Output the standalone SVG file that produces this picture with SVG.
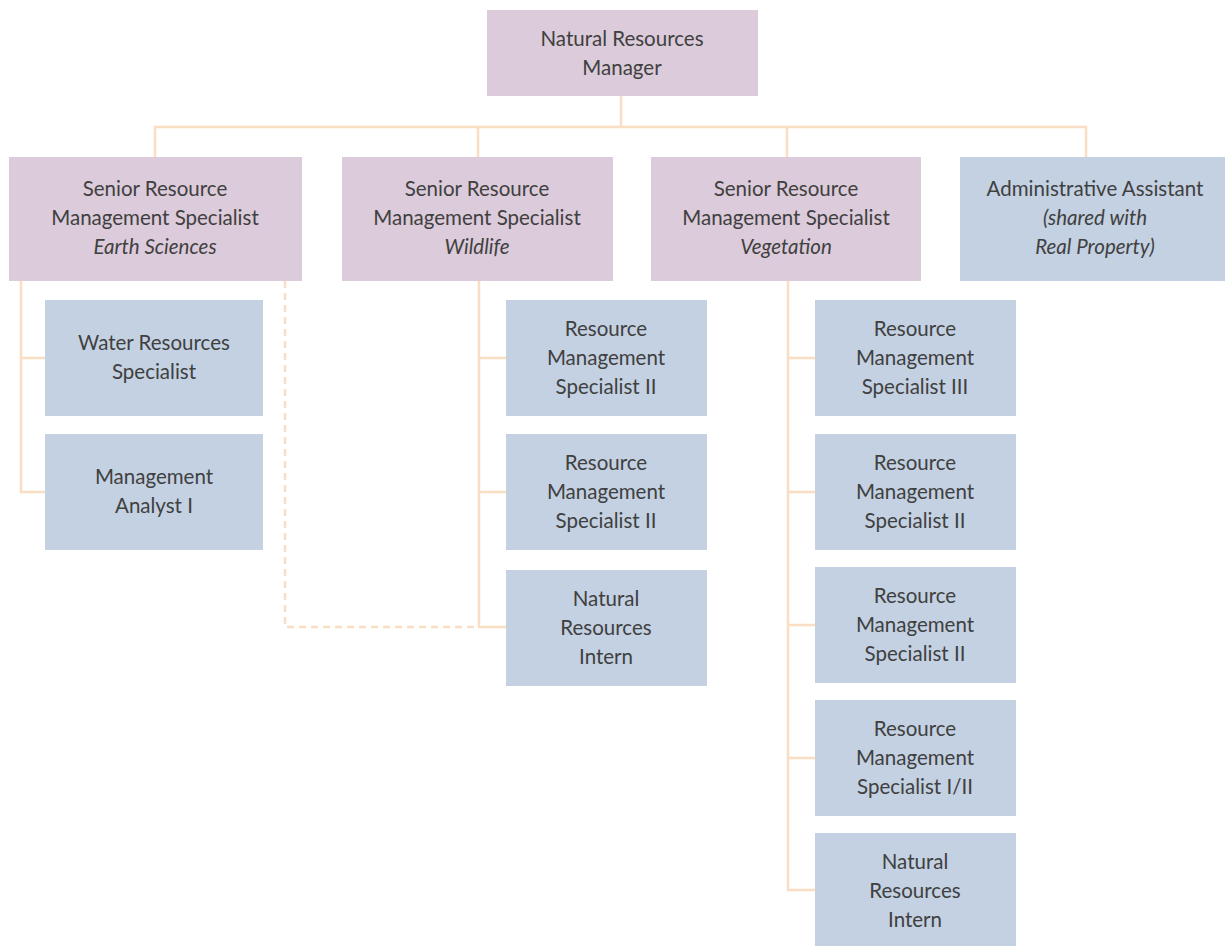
<svg xmlns="http://www.w3.org/2000/svg" width="1225" height="946" viewBox="0 0 1225 946">
<style>
.p{fill:#dccbda}
.b{fill:#c3d1e2}
text{font-family:Lato,"Noto Sans","Liberation Sans",sans-serif;font-size:20.5px;fill:#404040;text-anchor:middle}
.i{font-style:italic}
.c{fill:none;stroke:#f9dec3;stroke-width:2.5}
.d{stroke-dasharray:7 5}
</style>
<rect width="1225" height="946" fill="#ffffff"/>
<g id="connectors">
<path class="c" d="M621 96V127M155 157V127H1086V157M478 127V157M787 127V157"/>
<path class="c" d="M21 281V492H45M21 358H45"/>
<path class="c" d="M479 281V627H506M479 358H506M479 492H506"/>
<path class="c d" d="M285 281V627H479"/>
<path class="c" d="M788 281V890H815M788 358H815M788 492H815M788 625H815M788 758H815"/>
</g>
<g id="n-manager"><rect class="p" x="487" y="10" width="271" height="86"/><text x="622" y="46">Natural Resources</text><text x="622" y="75">Manager</text></g>
<g id="n-earth"><rect class="p" x="9" y="157" width="293" height="124"/><text x="155" y="196">Senior Resource</text><text x="155" y="225">Management Specialist</text><text class="i" x="155" y="254">Earth Sciences</text></g>
<g id="n-wildlife"><rect class="p" x="342" y="157" width="271" height="124"/><text x="477" y="196">Senior Resource</text><text x="477" y="225">Management Specialist</text><text class="i" x="477" y="254">Wildlife</text></g>
<g id="n-vegetation"><rect class="p" x="651" y="157" width="270" height="124"/><text x="786" y="196">Senior Resource</text><text x="786" y="225">Management Specialist</text><text class="i" x="786" y="254">Vegetation</text></g>
<g id="n-admin"><rect class="b" x="960" y="157" width="271" height="124"/><text x="1095" y="196">Administrative Assistant</text><text class="i" x="1095" y="225">(shared with</text><text class="i" x="1095" y="254">Real Property)</text></g>
<g id="n-water"><rect class="b" x="45" y="300" width="218" height="116"/><text x="154" y="350">Water Resources</text><text x="154" y="379">Specialist</text></g>
<g id="n-analyst"><rect class="b" x="45" y="434" width="218" height="116"/><text x="154" y="484">Management</text><text x="154" y="513">Analyst I</text></g>
<g id="n-w1"><rect class="b" x="506" y="300" width="201" height="116"/><text x="606" y="336">Resource</text><text x="606" y="365">Management</text><text x="606" y="394">Specialist II</text></g>
<g id="n-w2"><rect class="b" x="506" y="434" width="201" height="116"/><text x="606" y="470">Resource</text><text x="606" y="499">Management</text><text x="606" y="528">Specialist II</text></g>
<g id="n-w3"><rect class="b" x="506" y="570" width="201" height="116"/><text x="606" y="606">Natural</text><text x="606" y="635">Resources</text><text x="606" y="664">Intern</text></g>
<g id="n-v1"><rect class="b" x="815" y="300" width="201" height="116"/><text x="915" y="336">Resource</text><text x="915" y="365">Management</text><text x="915" y="394">Specialist III</text></g>
<g id="n-v2"><rect class="b" x="815" y="434" width="201" height="116"/><text x="915" y="470">Resource</text><text x="915" y="499">Management</text><text x="915" y="528">Specialist II</text></g>
<g id="n-v3"><rect class="b" x="815" y="567" width="201" height="116"/><text x="915" y="603">Resource</text><text x="915" y="632">Management</text><text x="915" y="661">Specialist II</text></g>
<g id="n-v4"><rect class="b" x="815" y="700" width="201" height="116"/><text x="915" y="736">Resource</text><text x="915" y="765">Management</text><text x="915" y="794">Specialist I/II</text></g>
<g id="n-v5"><rect class="b" x="815" y="833" width="201" height="116"/><text x="915" y="869">Natural</text><text x="915" y="898">Resources</text><text x="915" y="927">Intern</text></g>
</svg>
